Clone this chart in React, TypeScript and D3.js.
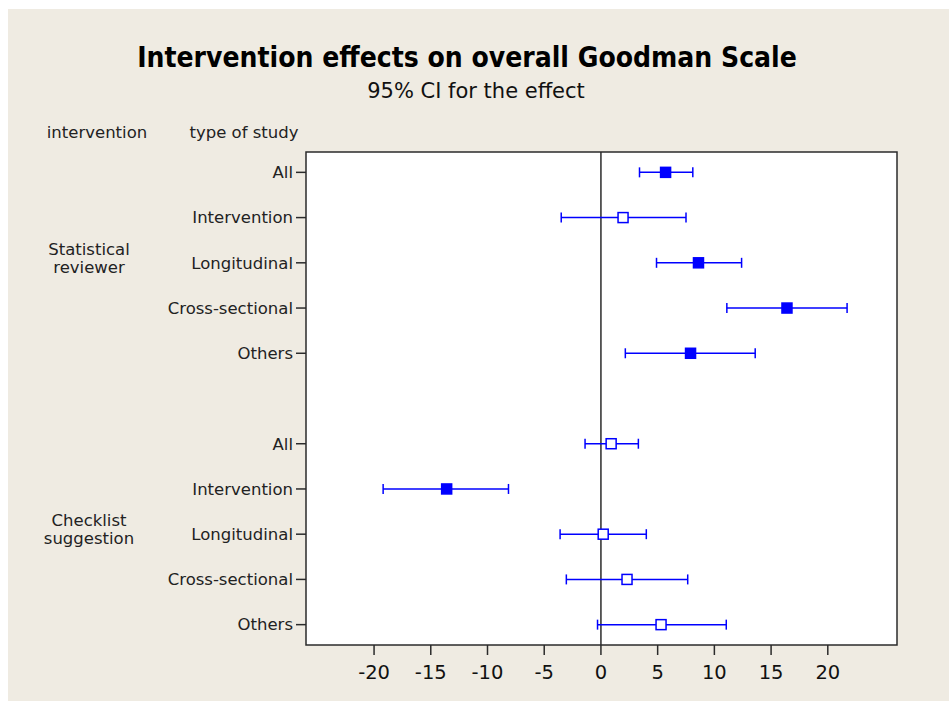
import React, { useEffect, useRef } from "react";
import * as d3 from "d3";

// rows of the forest plot, top to bottom
const groups = ["Statistical reviewer", "Checklist suggestion"];
const studyTypes = ["All", "Intervention", "Longitudinal", "Cross-sectional", "Others"];

const statEffect = [5.7, 1.95, 8.6, 16.4, 7.9];
const statLow = [3.4, -3.5, 4.9, 11.1, 2.15];
const statHigh = [8.1, 7.5, 12.4, 21.7, 13.6];
const statSignificant = [true, false, true, true, true];

const checkEffect = [0.9, -13.6, 0.2, 2.3, 5.3];
const checkLow = [-1.4, -19.2, -3.6, -3.05, -0.3];
const checkHigh = [3.3, -8.15, 4.0, 7.65, 11.05];
const checkSignificant = [false, true, false, false, false];

const xTicks = [-20, -15, -10, -5, 0, 5, 10, 15, 20];

const FONT = "'DejaVu Sans', sans-serif";
const TITLE_FONT = "'DejaVu Sans Condensed', 'DejaVu Sans', sans-serif";
const BLUE = "#0000FF";

function App() {
    const ref = useRef(null);

    useEffect(() => {
        const width = 949;
        const height = 701;
        const frame = { left: 306, right: 897, top: 152, bottom: 645 };

        const svg = d3.select(ref.current);
        svg.selectAll("*").remove();
        svg.attr("width", width).attr("height", height);

        svg.append("rect")
            .attr("x", 8).attr("y", 9)
            .attr("width", width - 8).attr("height", height - 9)
            .attr("fill", "#EFEBE2");

        // build rows; a blank slot separates the two groups
        const rows = [];
        studyTypes.forEach((t, i) => rows.push({ slot: i, label: t, est: statEffect[i], lo: statLow[i], hi: statHigh[i], sig: statSignificant[i] }));
        studyTypes.forEach((t, i) => rows.push({ slot: i + 6, label: t, est: checkEffect[i], lo: checkLow[i], hi: checkHigh[i], sig: checkSignificant[i] }));

        const x = d3.scaleLinear().domain([-26, 26.1]).range([frame.left, frame.right]);
        const y = d3.scaleLinear().domain([-0.45, 10.45]).range([frame.top, frame.bottom]);

        svg.append("rect")
            .attr("x", frame.left).attr("y", frame.top)
            .attr("width", frame.right - frame.left)
            .attr("height", frame.bottom - frame.top)
            .attr("fill", "#fff")
            .attr("stroke", "#2b2b2b")
            .attr("stroke-width", 1.5);

        // zero reference line
        svg.append("line")
            .attr("x1", x(0)).attr("x2", x(0))
            .attr("y1", frame.top).attr("y2", frame.bottom)
            .attr("stroke", "#2b2b2b")
            .attr("stroke-width", 1.5);

        // titles
        svg.append("text")
            .attr("x", 467).attr("y", 67)
            .attr("text-anchor", "middle")
            .attr("font-family", TITLE_FONT)
            .attr("font-weight", "bold")
            .attr("font-size", 28)
            .attr("fill", "#000")
            .text("Intervention effects on overall Goodman Scale");
        svg.append("text")
            .attr("x", 476).attr("y", 98)
            .attr("text-anchor", "middle")
            .attr("font-family", FONT)
            .attr("font-size", 21)
            .attr("fill", "#111")
            .text("95% CI for the effect");

        svg.append("text")
            .attr("x", 97).attr("y", 138)
            .attr("text-anchor", "middle")
            .attr("font-family", FONT).attr("font-size", 16.5).attr("fill", "#222")
            .text("intervention");
        svg.append("text")
            .attr("x", 244).attr("y", 138)
            .attr("text-anchor", "middle")
            .attr("font-family", FONT).attr("font-size", 16.5).attr("fill", "#222")
            .text("type of study");

        // group labels
        groups.forEach((g, gi) => {
            const mid = y(gi * 6 + 2);
            const words = g.split(" ");
            words.forEach((w, wi) => {
                svg.append("text")
                    .attr("x", 89)
                    .attr("y", mid - 8 + wi * 18)
                    .attr("text-anchor", "middle")
                    .attr("font-family", FONT).attr("font-size", 16.5).attr("fill", "#222")
                    .text(w);
            });
        });

        // y ticks and labels
        const yt = svg.selectAll(".ytick").data(rows).enter().append("g")
            .attr("transform", (d) => "translate(0," + y(d.slot) + ")");
        yt.append("line")
            .attr("x1", frame.left - 10).attr("x2", frame.left)
            .attr("stroke", "#2b2b2b").attr("stroke-width", 1.5);
        yt.append("text")
            .attr("x", frame.left - 13)
            .attr("dy", "0.35em")
            .attr("text-anchor", "end")
            .attr("font-family", FONT).attr("font-size", 16.5).attr("fill", "#222")
            .text((d) => d.label);

        // x ticks
        const xt = svg.selectAll(".xtick").data(xTicks).enter().append("g")
            .attr("transform", (d) => "translate(" + x(d) + ",0)");
        xt.append("line")
            .attr("y1", frame.bottom).attr("y2", frame.bottom + 10)
            .attr("stroke", "#2b2b2b").attr("stroke-width", 1.5);
        xt.append("text")
            .attr("y", frame.bottom + 34)
            .attr("text-anchor", "middle")
            .attr("font-family", FONT).attr("font-size", 19.5).attr("fill", "#111")
            .text((d) => d);

        // confidence intervals
        const ci = svg.selectAll(".ci").data(rows).enter().append("g")
            .attr("transform", (d) => "translate(0," + y(d.slot) + ")");
        ci.append("line")
            .attr("x1", (d) => x(d.lo)).attr("x2", (d) => x(d.hi))
            .attr("stroke", BLUE).attr("stroke-width", 1.5);
        ci.append("line")
            .attr("x1", (d) => x(d.lo)).attr("x2", (d) => x(d.lo))
            .attr("y1", -5).attr("y2", 5)
            .attr("stroke", BLUE).attr("stroke-width", 1.5);
        ci.append("line")
            .attr("x1", (d) => x(d.hi)).attr("x2", (d) => x(d.hi))
            .attr("y1", -5).attr("y2", 5)
            .attr("stroke", BLUE).attr("stroke-width", 1.5);
        ci.append("rect")
            .attr("x", (d) => x(d.est) - 5)
            .attr("y", -5)
            .attr("width", 10).attr("height", 10)
            .attr("fill", (d) => (d.sig ? BLUE : "#fff"))
            .attr("stroke", BLUE)
            .attr("stroke-width", 1.5);
    }, []);

    return (
        <svg ref={ref} style={{ position: "absolute", left: 0, top: 0, display: "block" }}></svg>
    );
}

export default App;
